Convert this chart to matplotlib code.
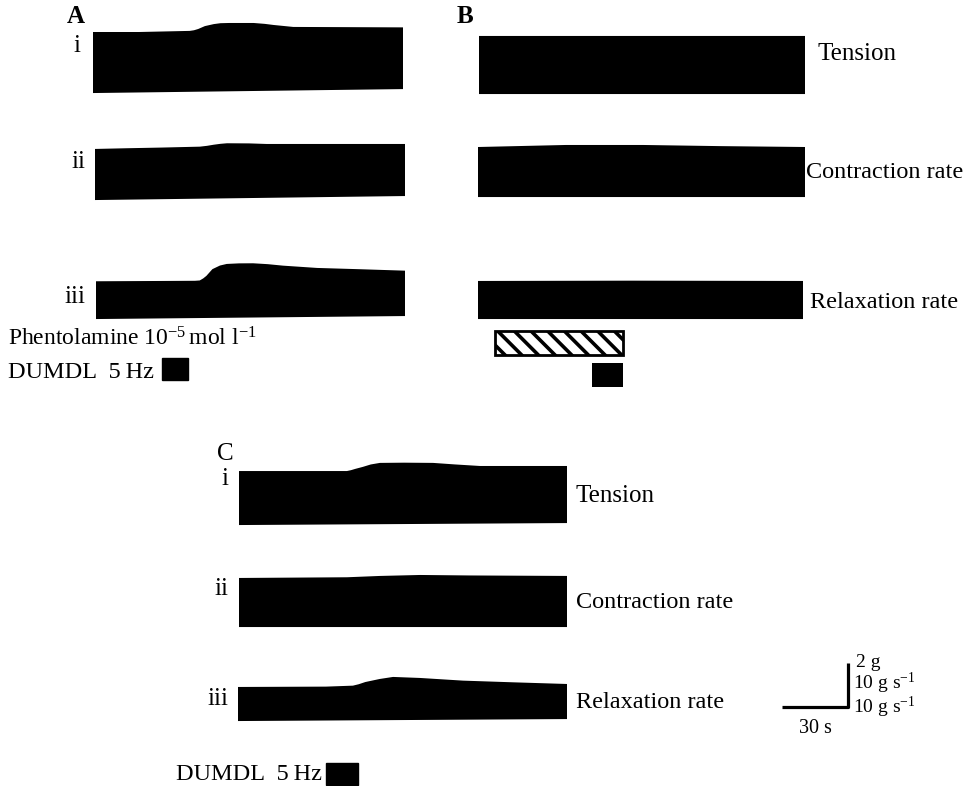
import numpy as np
import matplotlib
matplotlib.use("Agg")
import matplotlib.pyplot as plt
from matplotlib.patches import Rectangle

plt.rcParams['font.family'] = ['Liberation Serif', 'DejaVu Serif']
plt.rcParams['mathtext.fontset'] = 'custom'
plt.rcParams['mathtext.rm'] = 'Liberation Serif'
plt.rcParams['mathtext.it'] = 'Liberation Serif:italic'
plt.rcParams['hatch.linewidth'] = 2.6

W, H = 972, 786

# Recording scales (chart recorder calibration)
PX_PER_S = 2.2       # 30 s bar
TENSION_PX = 22.0    # 2 g bar
RATE_PX = 4.4        # 10 g s-1 bar

# ---- Panel A: envelopes of the oscillating records (time in s) ----
a_ten_t = [0, 21, 44, 46, 48, 51, 55, 58, 62, 73, 78, 82, 87, 91, 117, 141]
a_ten_hi = [2.68, 2.68, 2.73, 2.76, 2.82, 2.95, 3.04, 3.08, 3.09, 3.09, 3.05, 3.00, 2.95, 2.91, 2.90, 2.89]
a_ten_lo_t = [0, 141]
a_ten_lo = [0.00, 0.18]

a_con_t = [0, 14.5, 30, 47.7, 51, 54, 57, 60, 70, 78, 100, 141]
a_con_hi = [11.14, 11.30, 11.45, 11.66, 11.85, 12.1, 12.3, 12.43, 12.4, 12.27, 12.27, 12.27]
a_con_lo_t = [0, 141]
a_con_lo = [0.00, 0.91]

a_rel_t = [0, 30, 45, 47.3, 49, 50.5, 53.2, 56.5, 59.5, 65, 71.4, 78, 85, 100.5, 120, 140.5]
a_rel_hi = [8.11, 8.18, 8.22, 8.3, 8.8, 9.4, 10.91, 11.7, 12.05, 12.18, 12.20, 12.0, 11.66, 11.14, 10.85, 10.52]
a_rel_lo_t = [0, 140.5]
a_rel_lo = [0.00, 0.68]

# ---- Panel B ----
b_ten_t = [0, 60, 148.2]
b_ten_hi = [2.55, 2.55, 2.55]
b_ten_lo_t = [0, 148.2]
b_ten_lo = [0.00, 0.00]

b_con_t = [0, 40, 75, 110, 148.6]
b_con_hi = [10.90, 11.36, 11.36, 11.10, 10.90]
b_con_lo_t = [0, 148.6]
b_con_lo = [0.00, 0.00]

b_rel_t = [0, 70, 147.7]
b_rel_hi = [8.18, 8.25, 8.18]
b_rel_lo_t = [0, 147.7]
b_rel_lo = [0.00, 0.00]

# Phentolamine application and DUMDL stimulation in B: (start s, duration s)
b_phentolamine = (7.7, 58.3)
b_stim = (52.0, 14.0)

# ---- Panel C ----
c_ten_t = [0, 30, 49.1, 51, 53, 56.4, 60, 64.1, 75, 88.2, 98.2, 109.5, 130, 149.1]
c_ten_hi = [2.36, 2.36, 2.36, 2.40, 2.46, 2.55, 2.66, 2.73, 2.74, 2.73, 2.66, 2.59, 2.59, 2.59]
c_ten_lo_t = [0, 149.1]
c_ten_lo = [0.00, 0.09]

c_con_t = [0, 49.1, 64.1, 82.3, 105, 149.1]
c_con_hi = [10.68, 10.84, 11.14, 11.36, 11.25, 11.14]
c_con_lo_t = [0, 149.1]
c_con_lo = [0.00, 0.00]

c_rel_t = [0, 40, 52.3, 55, 58, 64.5, 70.5, 82.7, 102.3, 125, 149.5]
c_rel_hi = [7.27, 7.35, 7.57, 7.9, 8.4, 9.09, 9.55, 9.32, 8.71, 8.33, 7.95]
c_rel_lo_t = [0, 149.5]
c_rel_lo = [0.00, 0.45]

scale_time = 30
scale_tension = 2

fig = plt.figure(figsize=(W / 100, H / 100), dpi=100)
fig.patch.set_facecolor('white')


def fx(x):
    return x / W


def fy(y):
    return 1 - y / H


def draw_trace(x0, yref, unit_px, t, hi, lo_t, lo):
    """Filled envelope of a chart-recorder trace; (x0, yref) is its lower-left corner."""
    ylo, yhi = -1.0, max(hi) + 0.5
    dur = t[-1]
    bottom_px = yref - ylo * unit_px
    top_px = yref - yhi * unit_px
    ax = fig.add_axes([fx(x0), fy(bottom_px), dur * PX_PER_S / W,
                       (bottom_px - top_px) / H])
    ax.set_xlim(0, dur)
    ax.set_ylim(ylo, yhi)
    ax.axis('off')
    xs = np.r_[t, lo_t[::-1]]
    ys = np.r_[hi, lo[::-1]]
    ax.fill(xs, ys, color='black', lw=1.5, joinstyle='round')
    return ax


def txt(x, y, s, size=18, **kw):
    kw.setdefault('va', 'baseline')
    fig.text(fx(x), fy(y), s, fontsize=size, color='black', **kw)


STIM_LABEL = 'DUMDL  5\u2009Hz'

# Panel A
draw_trace(93, 92, TENSION_PX, a_ten_t, a_ten_hi, a_ten_lo_t, a_ten_lo)
draw_trace(95, 199, RATE_PX, a_con_t, a_con_hi, a_con_lo_t, a_con_lo)
draw_trace(96, 318, RATE_PX, a_rel_t, a_rel_hi, a_rel_lo_t, a_rel_lo)
txt(67, 23, 'A', weight='bold')
txt(80, 52, 'i', ha='right')
txt(85, 168, 'ii', ha='right')
txt(85, 303, 'iii', ha='right')
txt(8, 345, r'Phentolamine $10^{-5}\,$mol l$^{-1}$', size=17)
txt(8, 378, STIM_LABEL, size=17.5)
fig.patches.append(Rectangle((fx(162), fy(380)), 26 / W, 22 / H, color='black',
                             transform=fig.transFigure, figure=fig))

# Panel B
draw_trace(479, 93, TENSION_PX, b_ten_t, b_ten_hi, b_ten_lo_t, b_ten_lo)
draw_trace(478, 196, RATE_PX, b_con_t, b_con_hi, b_con_lo_t, b_con_lo)
draw_trace(478, 318, RATE_PX, b_rel_t, b_rel_hi, b_rel_lo_t, b_rel_lo)
txt(457, 23, 'B', weight='bold')
txt(817, 60, 'Tension')
txt(806, 178, 'Contraction rate', size=17.5)
txt(810, 308, 'Relaxation rate', size=17.5)

# Event markers under the B records, on the same time axis
ev = fig.add_axes([fx(478), fy(391), b_rel_t[-1] * PX_PER_S / W, 64 / H])
ev.set_xlim(0, b_rel_t[-1])
ev.set_ylim(1.5, -0.5)
ev.axis('off')
ev.barh(0, b_phentolamine[1], left=b_phentolamine[0], height=0.78,
        facecolor='white', edgecolor='black', hatch='\\\\', linewidth=2.0)
ev.barh(1, b_stim[1], left=b_stim[0], height=0.72, color='black')

# Panel C
draw_trace(239, 524, TENSION_PX, c_ten_t, c_ten_hi, c_ten_lo_t, c_ten_lo)
draw_trace(239, 626, RATE_PX, c_con_t, c_con_hi, c_con_lo_t, c_con_lo)
draw_trace(238, 720, RATE_PX, c_rel_t, c_rel_hi, c_rel_lo_t, c_rel_lo)
txt(217, 460, 'C')
txt(228, 485, 'i', ha='right')
txt(228, 595, 'ii', ha='right')
txt(228, 705, 'iii', ha='right')
txt(575, 502, 'Tension')
txt(576, 608, 'Contraction rate', size=17.5)
txt(576, 708, 'Relaxation rate', size=17.5)
txt(176, 780, STIM_LABEL, size=17.5)
fig.patches.append(Rectangle((fx(326), fy(785)), 32 / W, 22 / H, color='black',
                             transform=fig.transFigure, figure=fig))

# Calibration bars
sb = fig.add_axes([fx(782), fy(707), scale_time * PX_PER_S / W,
                   scale_tension * TENSION_PX / H])
sb.set_xlim(0, scale_time)
sb.set_ylim(0, scale_tension)
sb.axis('off')
sb.plot([0, scale_time, scale_time], [0, 0, scale_tension], color='black',
        lw=2.3, solid_capstyle='butt', clip_on=False)
txt(856, 667, '2 g', size=14)
txt(853, 689, r'10 g s$^{-1}$', size=14)
txt(853, 713, r'10 g s$^{-1}$', size=14)
txt(815, 733, '30 s', size=14.5, ha='center')

fig.savefig('out.png', dpi=100, facecolor='white')
